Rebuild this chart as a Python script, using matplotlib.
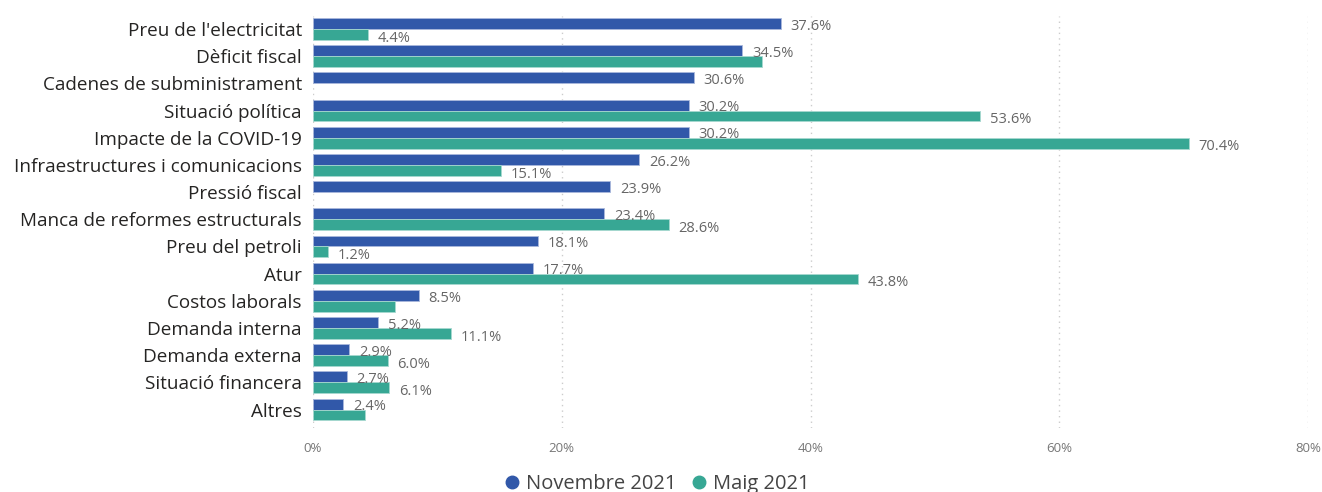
import numpy as np
import matplotlib
matplotlib.use('Agg')
import matplotlib.pyplot as plt
from matplotlib.lines import Line2D

categories = ["Preu de l'electricitat", "Dèficit fiscal", "Cadenes de subministrament",
              "Situació política", "Impacte de la COVID-19", "Infraestructures i comunicacions",
              "Pressió fiscal", "Manca de reformes estructurals", "Preu del petroli", "Atur",
              "Costos laborals", "Demanda interna", "Demanda externa", "Situació financera", "Altres"]
nov_2021 = [37.6, 34.5, 30.6, 30.2, 30.2, 26.2, 23.9, 23.4, 18.1, 17.7, 8.5, 5.2, 2.9, 2.7, 2.4]
maig_2021 = [4.4, 36.1, None, 53.6, 70.4, 15.1, None, 28.6, 1.2, 43.8, 6.6, 11.1, 6.0, 6.1, 4.2]
# which Maig bars carry a data label in the original
maig_labelled = [True, False, False, True, True, True, False, True, True, True, False, True, True, True, False]
xticks = [0, 20, 40, 60, 80]

c_nov = '#3158A9'
c_maig = '#37A794'

plt.rcParams['font.family'] = ['Open Sans', 'DejaVu Sans']

fig = plt.figure(figsize=(13.22, 4.92), dpi=100)
ax = fig.add_axes([313 / 1322, 1 - 428 / 492, (1308 - 313) / 1322, (428 - 16) / 492])

y = np.arange(len(categories))
h = 0.4
for i, (n, m) in enumerate(zip(nov_2021, maig_2021)):
    ax.barh(y[i] - h / 2, n, height=h, color=c_nov, edgecolor='#a9b8dc', linewidth=0.6)
    ax.text(n + 0.8, y[i] - h / 2 + 0.1, f'{n:.1f}%', va='center', ha='left',
            fontsize=10.5, color='#666666')
    if m is not None:
        ax.barh(y[i] + h / 2, m, height=h, color=c_maig, edgecolor='#a6d8cf', linewidth=0.6)
        if maig_labelled[i]:
            ax.text(m + 0.8, y[i] + h / 2 + 0.14, f'{m:.1f}%', va='center', ha='left',
                    fontsize=10.5, color='#666666')

ax.set_ylim(14.68, -0.478)
ax.set_xlim(0, 80)
ax.set_yticks(y)
ax.set_yticklabels(categories, fontsize=13.6, color='#252423')
ax.set_xticks(xticks)
ax.set_xticklabels([f'{t}%' for t in xticks], fontsize=9.5, color='#777777')
ax.tick_params(axis='both', length=0)
ax.tick_params(axis='y', pad=8)
ax.tick_params(axis='x', pad=10)
for s in ax.spines.values():
    s.set_visible(False)
ax.grid(axis='x', color='#cccccc', linestyle=(0, (1, 3)), linewidth=1)
ax.set_axisbelow(True)

handles = [Line2D([], [], marker='o', linestyle='', color=c_nov, markersize=9),
           Line2D([], [], marker='o', linestyle='', color=c_maig, markersize=9)]
fig.legend(handles, ['Novembre 2021', 'Maig 2021'], loc='lower center',
           bbox_to_anchor=(651 / 1322, -0.04), ncol=2, frameon=False, fontsize=14.5,
           handletextpad=-0.3, columnspacing=0.1, labelcolor='#444444')

fig.savefig('out.png', dpi=100)
